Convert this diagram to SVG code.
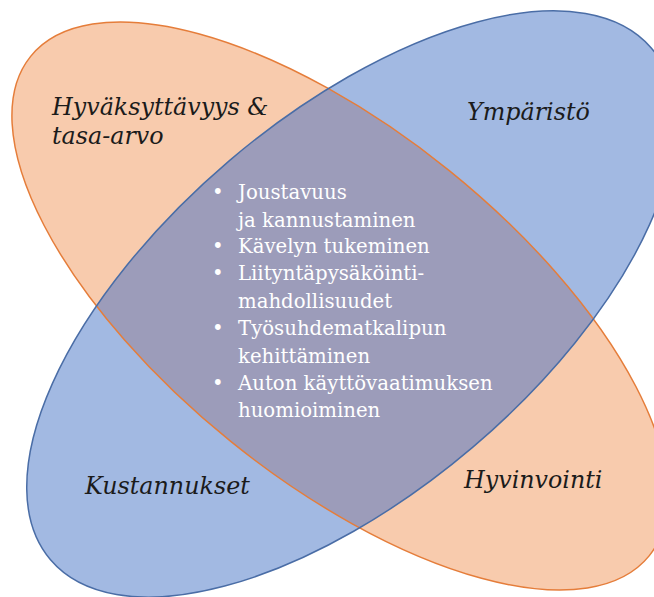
<svg xmlns="http://www.w3.org/2000/svg" width="654" height="597" viewBox="0 0 654 597">
<style>
.lbl{font-family:"DejaVu Serif","Liberation Serif",serif;font-style:italic;font-size:23.8px;fill:#1b1b1b}
.bul{font-family:"DejaVu Serif","Liberation Serif",serif;font-size:19.7px;fill:#ffffff}
.of{fill:#F8CBAD}
.bf{fill:#A2B9E2}
.os{fill:none;stroke:#E57D3A;stroke-width:1.5}
.bs{fill:none;stroke:#4A6DA6;stroke-width:1.5}
</style>
<defs>
<ellipse id="eo" cx="340" cy="306" rx="397.5" ry="174" transform="rotate(38.9 340 306)"/>
<ellipse id="eb" cx="351" cy="304" rx="394.6" ry="188" transform="rotate(-40.4 351 304)"/>
<clipPath id="clipO"><use href="#eo"/></clipPath>
</defs>
<rect width="654" height="597" fill="#ffffff"/>
<g id="orange">
<use href="#eo" class="of"/>
</g>
<g id="blue">
<use href="#eb" class="bf"/>
</g>
<g id="overlap">
<g clip-path="url(#clipO)"><use href="#eb" fill="#9C9CBA"/></g>
<use href="#eo" class="os"/>
<use href="#eb" class="bs"/>
</g>
<g id="connectors"></g>
<g id="label-hyvaksyttavyys">
<text class="lbl" x="52" y="115">Hyväksyttävyys &amp;</text>
<text class="lbl" x="52" y="144">tasa-arvo</text>
</g>
<g id="label-ymparisto">
<text class="lbl" x="467" y="120">Ympäristö</text>
</g>
<g id="label-kustannukset">
<text class="lbl" x="85" y="494">Kustannukset</text>
</g>
<g id="label-hyvinvointi">
<text class="lbl" x="464" y="488">Hyvinvointi</text>
</g>
<g id="center-list">
<text class="bul" x="212" y="199">•</text>
<text class="bul" x="238" y="199">Joustavuus</text>
<text class="bul" x="238" y="227">ja kannustaminen</text>
<text class="bul" x="212" y="253">•</text>
<text class="bul" x="238" y="253">Kävelyn tukeminen</text>
<text class="bul" x="212" y="280">•</text>
<text class="bul" x="238" y="280">Liityntäpysäköinti-</text>
<text class="bul" x="238" y="308">mahdollisuudet</text>
<text class="bul" x="212" y="335">•</text>
<text class="bul" x="238" y="335">Työsuhdematkalipun</text>
<text class="bul" x="238" y="363">kehittäminen</text>
<text class="bul" x="212" y="390">•</text>
<text class="bul" x="238" y="390">Auton käyttövaatimuksen</text>
<text class="bul" x="238" y="417">huomioiminen</text>
</g>
</svg>
